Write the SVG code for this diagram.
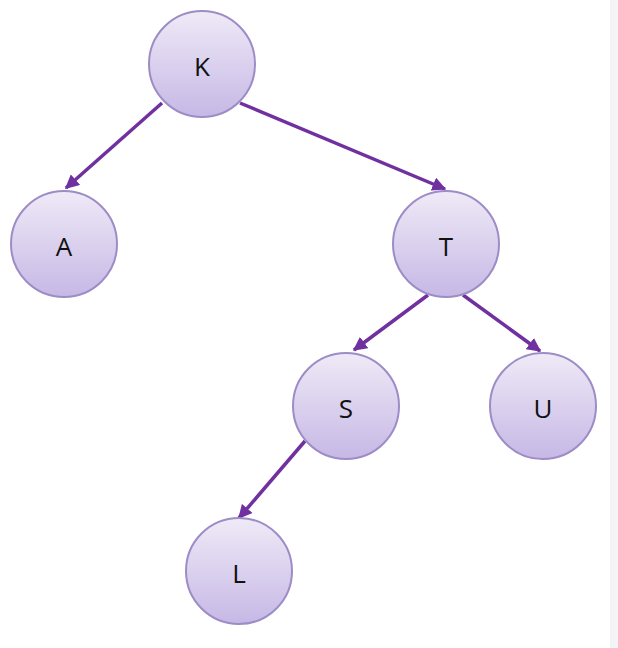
<svg xmlns="http://www.w3.org/2000/svg" width="618" height="648" viewBox="0 0 618 648">
<style>
.n circle{fill:url(#g);stroke:#9d8cc6;stroke-width:2}
.n text{font-family:"Open Sans","Liberation Sans",sans-serif;font-size:26px;fill:#111;text-anchor:middle;dominant-baseline:central}
.e line{stroke:#7030a0;stroke-width:3.5;marker-end:url(#a)}
</style>
<defs>
<linearGradient id="g" x1="0" y1="0" x2="0" y2="1"><stop offset="0" stop-color="#efeaf7"/><stop offset="1" stop-color="#c6b8e5"/></linearGradient>
<marker id="a" viewBox="0 0 10 10" refX="9" refY="5" markerWidth="4" markerHeight="4" orient="auto" markerUnits="strokeWidth"><path d="M0,0L10,5L0,10z" fill="#7030a0"/></marker>
</defs>
<rect width="618" height="648" fill="#fff"/>
<rect x="610" y="0" width="8" height="648" fill="#f4f4f6"/>
<g class="e" id="edges">
<line x1="162" y1="103" x2="66" y2="188"/>
<line x1="240" y1="103" x2="445" y2="189"/>
<line x1="428" y1="295" x2="354" y2="350"/>
<line x1="463" y1="295" x2="540" y2="351"/>
<line x1="305" y1="441" x2="239" y2="518"/>
</g>
<g class="n" id="K"><circle cx="202" cy="64" r="53"/><text x="202" y="66">K</text></g>
<g class="n" id="A"><circle cx="64" cy="244" r="53"/><text x="64" y="246">A</text></g>
<g class="n" id="T"><circle cx="446" cy="244" r="53"/><text x="446" y="246">T</text></g>
<g class="n" id="S"><circle cx="346" cy="406" r="53"/><text x="346" y="408">S</text></g>
<g class="n" id="U"><circle cx="543" cy="406" r="53"/><text x="543" y="408">U</text></g>
<g class="n" id="L"><circle cx="239" cy="571" r="53"/><text x="239" y="573">L</text></g>
</svg>
